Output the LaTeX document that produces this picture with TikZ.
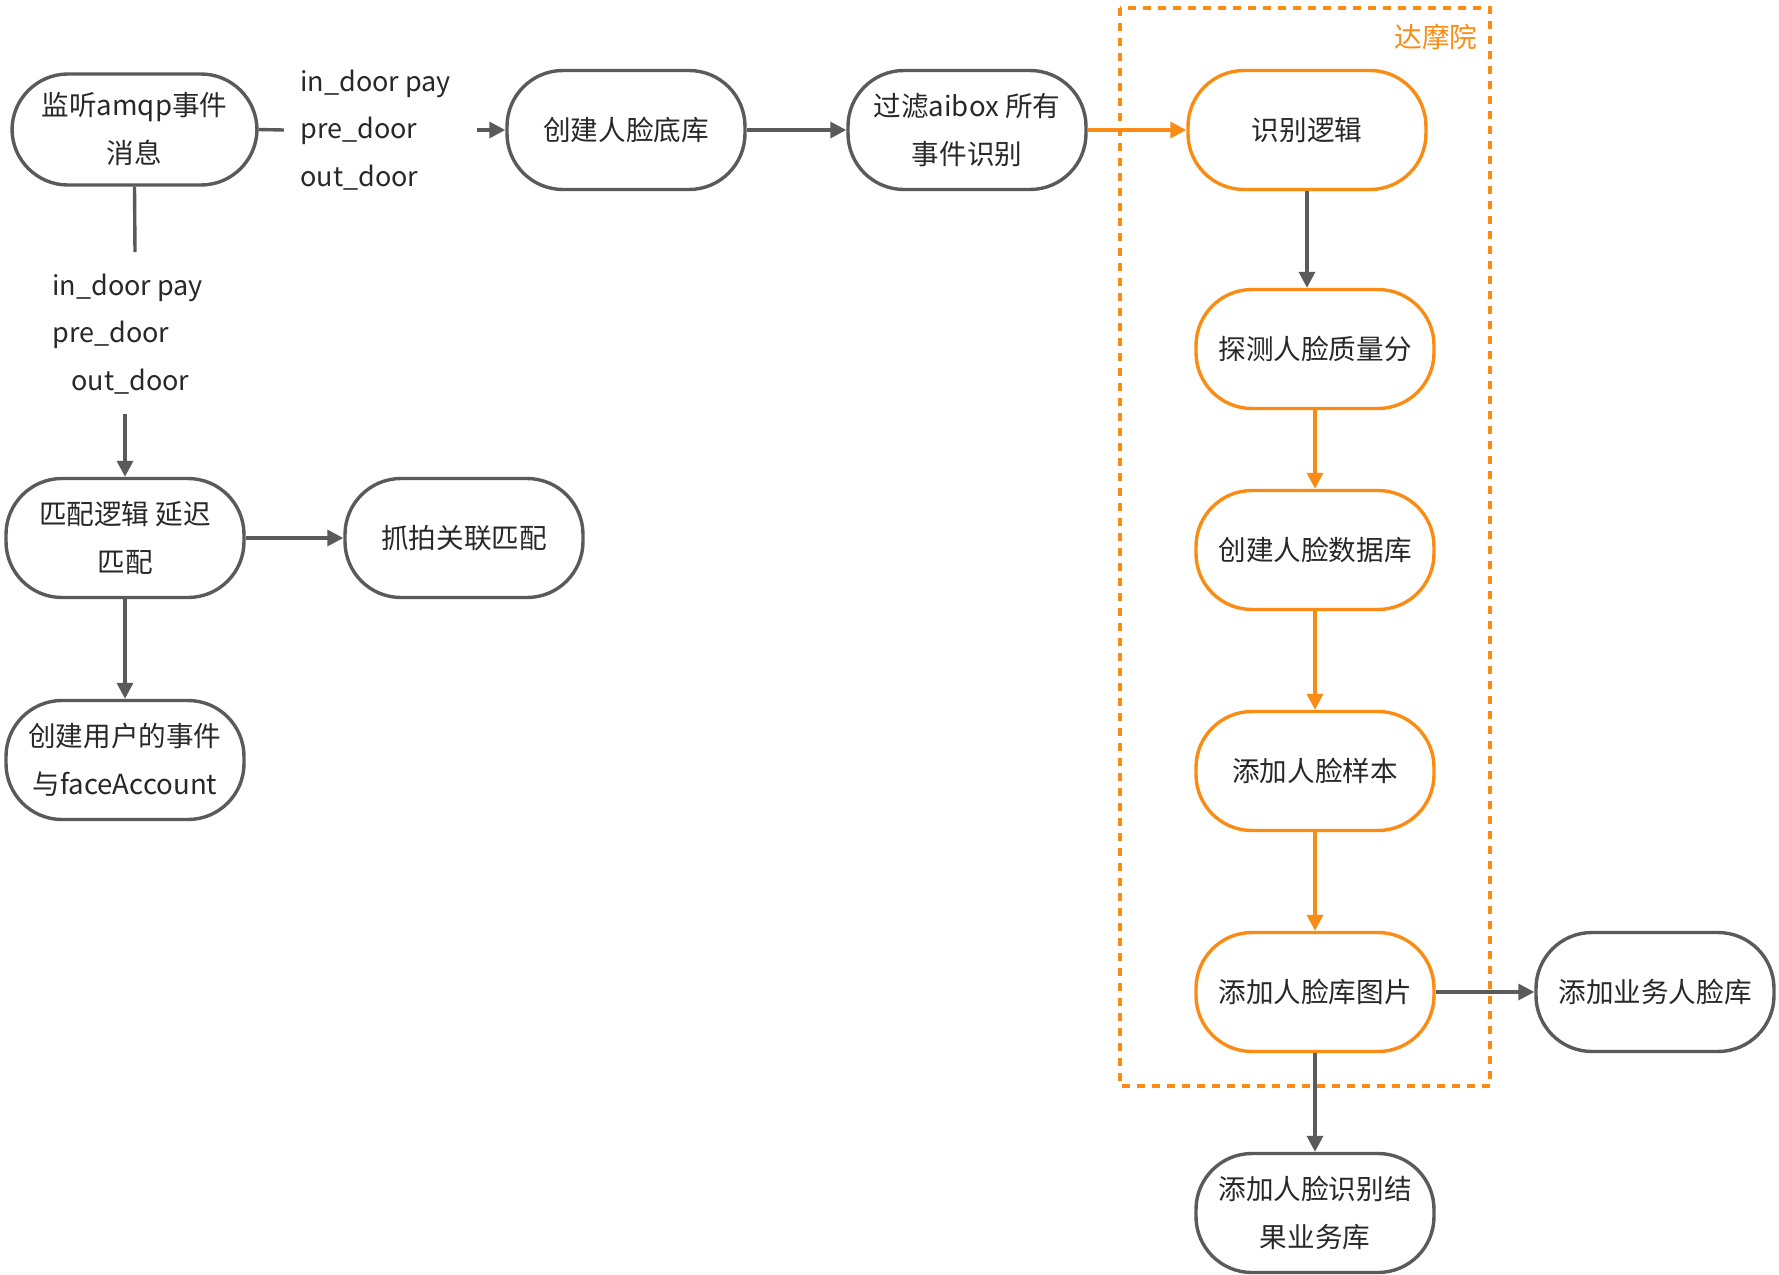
\documentclass[tikz,border=0pt]{standalone}
\usepackage{fontspec}
\setmainfont{Noto Sans CJK SC}
\usetikzlibrary{arrows.meta}
\definecolor{lgray}{RGB}{90,90,90}
\definecolor{orng}{RGB}{250,140,22}
\definecolor{txt}{RGB}{40,40,40}
\begin{document}
\begin{tikzpicture}[x=0.5pt,y=-0.5pt,
  proc/.style={draw=lgray, line width=1.7pt, rounded corners=28pt, minimum width=119pt, minimum height=59.5pt, align=center, text=txt, font=\fontsize{13.8}{24}\selectfont, inner sep=0pt, fill=white},
  oproc/.style={proc, draw=orng},
  gline/.style={draw=lgray, line width=1.7pt},
  conn/.style={gline, -{Triangle[length=8pt,width=8pt]}},
  oconn/.style={conn, draw=orng},
  lbl/.style={align=left, text=txt, font=\fontsize{13.5}{23.75}\selectfont, inner sep=0pt},
  grp/.style={draw=orng, line width=1.6pt, dash pattern=on 4pt off 3.5pt}
]
\useasboundingbox (0,0) rectangle (1779,1275);
\fill[white] (0,0) rectangle (1779,1275);

% group frame
\draw[grp] (1120,8) rectangle (1490,1086);
\node[text=orng, font=\fontsize{13.8}{16}\selectfont, inner sep=0pt] (dmy) at (1436,37) {达摩院};

% nodes
\node[proc, minimum width=122.5pt, minimum height=55.5pt] (A) at (134.5,129.5) {监听amqp事件\\消息};
\node[proc] (B) at (626,130) {创建人脸底库};
\node[proc] (C) at (967,130) {过滤aibox 所有\\事件识别};
\node[oproc] (D) at (1307,130) {识别逻辑};
\node[oproc] (E) at (1315,349) {探测人脸质量分};
\node[oproc] (F) at (1315,550) {创建人脸数据库};
\node[oproc] (G) at (1315,771) {添加人脸样本};
\node[oproc] (H) at (1315,992) {添加人脸库图片};
\node[proc] (I) at (1655,992) {添加业务人脸库};
\node[proc] (J) at (1315,1213) {添加人脸识别结\\果业务库};
\node[proc] (K) at (125,538) {匹配逻辑 延迟\\匹配};
\node[proc] (L) at (464,538) {抓拍关联匹配};
\node[proc] (M) at (125,760) {创建用户的事件\\与faceAccount};

% labels
\node[lbl, anchor=west] (la) at (300,130) {in\_door pay\\pre\_door\\out\_door};
\node[lbl, anchor=west] (lb) at (52,334) {in\_door pay\\pre\_door\\\hspace{9.5pt}out\_door};

% free ends of split connectors
\coordinate (a2) at (284,130);
\coordinate (b1) at (477,130);
\coordinate (a1) at (135,252);
\coordinate (k1) at (125,414);

% connectors
\draw[gline] (A.east) -- (a2);
\draw[conn] (b1) -- (B.west);
\draw[conn] (B.east) -- (C.west);
\draw[oconn] (C.east) -- (D.west);
\draw[conn] (D.south) -- (D.south |- E.north);
\draw[oconn] (E.south) -- (F.north);
\draw[oconn] (F.south) -- (G.north);
\draw[oconn] (G.south) -- (H.north);
\draw[conn] (H.east) -- (I.west);
\draw[conn] (H.south) -- (J.north);
\draw[gline] (A.south) -- (a1);
\draw[conn] (k1) -- (K.north);
\draw[conn] (K.east) -- (L.west);
\draw[conn] (K.south) -- (M.north);
\end{tikzpicture}
\end{document}
